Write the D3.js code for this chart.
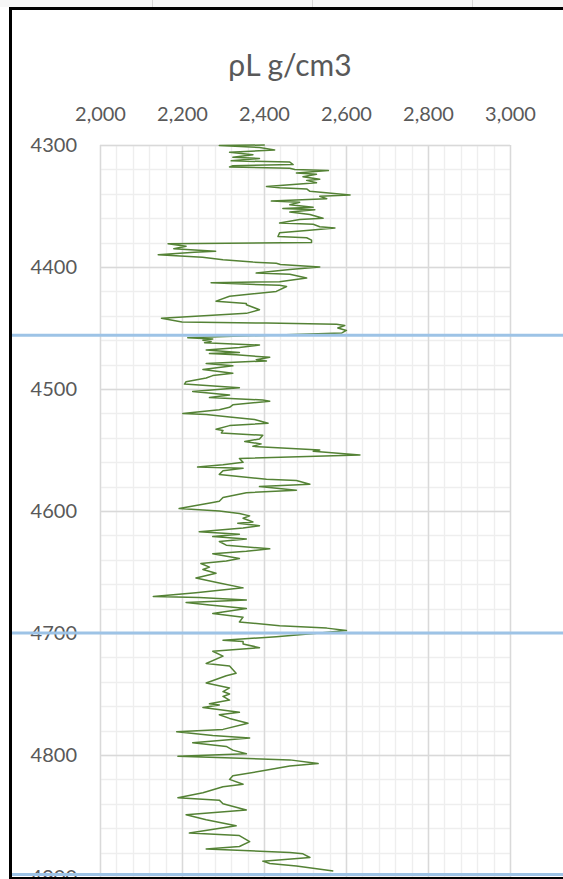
<!DOCTYPE html>
<html>
<head>
<meta charset="utf-8">
<script src="https://cdn.jsdelivr.net/npm/d3@7"></script>
<style>
  body { margin: 0; background: #fff; }
  svg { display: block; }
</style>
</head>
<body>
<svg id="chart" width="563" height="879"></svg>
<script>
// Bulk density log (rhoL) against measured depth
const depthM = [
  4300, 4300.5, 4302, 4304, 4306, 4308, 4310, 4311, 4313, 4314, 4316, 4317, 4318, 4319, 4320, 4321, 4323, 4324, 4326, 4328,
  4329, 4331, 4334, 4335, 4336, 4338, 4341, 4342, 4344, 4346, 4347, 4349, 4351, 4352, 4353, 4355, 4357, 4360, 4361, 4364,
  4365, 4367, 4368, 4370, 4372, 4375, 4376, 4378, 4380,
  4381, 4383, 4385, 4387, 4388, 4390, 4392, 4394, 4396, 4397, 4398, 4400, 4402, 4405, 4406, 4409, 4412, 4413, 4415, 4416,
  4420, 4424, 4428, 4430, 4431, 4435, 4438, 4442, 4445, 4446, 4447, 4448, 4450, 4452, 4454, 4458,
  4459, 4460, 4461, 4462, 4464, 4466, 4468, 4470, 4471, 4472, 4474, 4476, 4477, 4479, 4481, 4484, 4487, 4489, 4491, 4494,
  4496, 4499, 4502, 4505, 4507, 4509, 4510, 4513, 4515, 4517, 4520, 4521, 4523, 4525, 4528, 4530, 4533, 4534, 4536, 4538,
  4541, 4543, 4545, 4547, 4550, 4551, 4554, 4557, 4560, 4562, 4564, 4565, 4567, 4570, 4574, 4575, 4578, 4580, 4583, 4585,
  4589, 4592, 4593, 4598, 4600, 4602, 4604, 4606, 4609, 4610, 4612, 4614, 4617, 4619, 4621, 4623, 4625, 4628, 4631, 4633,
  4635, 4639, 4641, 4643, 4646, 4648, 4651, 4655, 4659, 4663, 4667, 4670, 4671, 4673, 4675, 4677, 4680, 4684, 4687, 4691,
  4694, 4696, 4698, 4700, 4703, 4706, 4707, 4709, 4712, 4715, 4719, 4725, 4727, 4733, 4735, 4741, 4745, 4748, 4750, 4752,
  4755, 4758, 4759, 4761, 4765, 4767, 4770, 4774, 4779, 4781, 4784, 4786, 4790, 4793, 4796, 4799, 4801, 4804, 4807, 4809,
  4813, 4817, 4820, 4824, 4826, 4831, 4835, 4837, 4840, 4845, 4849, 4853, 4858, 4864, 4866, 4871, 4875, 4877, 4880, 4881,
  4884, 4887, 4889, 4891, 4895
];
const rhoL = [
  2402, 2291, 2389, 2426, 2316, 2373, 2324, 2389, 2320, 2463, 2471, 2324, 2316, 2463, 2475, 2557, 2479, 2528, 2495, 2536,
  2504, 2528, 2406, 2438, 2504, 2512, 2610, 2536, 2553, 2418, 2487, 2463, 2520, 2446, 2524, 2463, 2512, 2544, 2487, 2438,
  2520, 2536, 2573, 2504, 2438, 2434, 2504, 2516, 2516,
  2166, 2210, 2180, 2282, 2230, 2142, 2250, 2300, 2373, 2430, 2440, 2536, 2463, 2381, 2463, 2504, 2438, 2271, 2438, 2455,
  2430, 2316, 2283, 2357, 2357, 2389, 2357, 2150, 2200, 2406, 2577, 2597, 2580, 2601, 2590, 2214,
  2275, 2251, 2271, 2255, 2389, 2340, 2259, 2340, 2267, 2332, 2414, 2381, 2406, 2259, 2324, 2251, 2324, 2275, 2259, 2210,
  2206, 2340, 2226, 2316, 2267, 2397, 2414, 2324, 2316, 2291, 2202, 2259, 2316, 2377, 2410, 2316, 2283, 2300, 2296, 2397,
  2389, 2353, 2393, 2373, 2536, 2520, 2634, 2340, 2349, 2300, 2238, 2349, 2300, 2291, 2406, 2479, 2512, 2389, 2479, 2357,
  2300, 2291, 2275, 2193, 2291, 2340, 2365, 2349, 2373, 2336, 2389, 2349, 2242, 2340, 2275, 2357, 2291, 2308, 2414, 2357,
  2275, 2340, 2308, 2246, 2267, 2251, 2283, 2234, 2291, 2349, 2234, 2130, 2242, 2357, 2210, 2267, 2357, 2275, 2349, 2340,
  2438, 2553, 2601, 2536, 2430, 2300, 2349, 2349, 2389, 2275, 2300, 2259, 2316, 2332, 2308, 2259, 2316, 2300, 2316, 2300,
  2316, 2267, 2291, 2251, 2340, 2291, 2316, 2361, 2300, 2187, 2275, 2365, 2226, 2308, 2324, 2357, 2190, 2463, 2532, 2463,
  2397, 2324, 2316, 2349, 2300, 2251, 2190, 2291, 2300, 2357, 2210, 2259, 2332, 2218, 2340, 2365, 2340, 2259, 2463, 2495,
  2512, 2397, 2414, 2479, 2569
];
const xTickValues = [2000, 2200, 2400, 2600, 2800, 3000];
const yTickValues = [4300, 4400, 4500, 4600, 4700, 4800, 4900];
const markerDepths = [4456, 4700, 4898];
const chartTitle = "ρL g/cm3";

const W = 563, H = 879;
const svg = d3.select("#chart");

const x = d3.scaleLinear().domain([2000, 3000]).range([100, 510]);
const y = d3.scaleLinear().domain([4300, 4900]).range([145, 877]);
const crisp = v => Math.round(v) + 0.5;

// worksheet strip above the chart object
const sheet = svg.append("g");
sheet.append("rect").attr("x", 0).attr("y", 0).attr("width", W).attr("height", 7).attr("fill", "#f6f6f6");
[152, 312, 472].forEach(cx => {
  sheet.append("line").attr("x1", cx + 0.5).attr("x2", cx + 0.5).attr("y1", 0).attr("y2", 7)
    .attr("stroke", "#d6d6d6").attr("stroke-width", 1);
});

// gridlines: minor first, then major
const grid = svg.append("g");
const xMinor = d3.range(2000, 3001, 40);
const yMinor = d3.range(4300, 4901, 20);
grid.selectAll(".vmin").data(xMinor).join("line")
  .attr("x1", d => crisp(x(d))).attr("x2", d => crisp(x(d)))
  .attr("y1", y(4300)).attr("y2", y(4900))
  .attr("stroke", "#eeeeee").attr("stroke-width", 1.4);
grid.selectAll(".hmin").data(yMinor).join("line")
  .attr("y1", d => crisp(y(d))).attr("y2", d => crisp(y(d)))
  .attr("x1", x(2000)).attr("x2", x(3000))
  .attr("stroke", "#eeeeee").attr("stroke-width", 1.4);
grid.selectAll(".vmaj").data(xTickValues).join("line")
  .attr("x1", d => crisp(x(d))).attr("x2", d => crisp(x(d)))
  .attr("y1", y(4300)).attr("y2", y(4900))
  .attr("stroke", "#d9d9d9").attr("stroke-width", 1.4);
grid.selectAll(".hmaj").data(yTickValues).join("line")
  .attr("y1", d => crisp(y(d))).attr("y2", d => crisp(y(d)))
  .attr("x1", x(2000)).attr("x2", x(3000))
  .attr("stroke", "#d9d9d9").attr("stroke-width", 1.4);

// axes (labels only)
const labelFont = "Lato, 'Open Sans', sans-serif";
const xAxis = svg.append("g").attr("transform", `translate(0,${y(4300)})`)
  .call(d3.axisTop(x).tickValues(xTickValues).tickFormat(d3.format(",")).tickSize(0).tickPadding(24));
const yAxis = svg.append("g").attr("transform", `translate(${x(2000)},0)`)
  .call(d3.axisLeft(y).tickValues(yTickValues).tickFormat(d3.format("d")).tickSize(0).tickPadding(23));
[xAxis, yAxis].forEach(g => {
  g.select(".domain").remove();
  g.selectAll("text").attr("fill", "#595959").style("font-family", labelFont).style("font-size", "20px");
});

// density curve
const points = depthM.map((d, i) => [rhoL[i], d]);
svg.append("path")
  .datum(points)
  .attr("fill", "none")
  .attr("stroke", "#548235")
  .attr("stroke-width", 1.5)
  .attr("stroke-linejoin", "round")
  .attr("d", d3.line().x(p => x(p[0])).y(p => y(p[1])));

// title
svg.append("text")
  .attr("x", 290).attr("y", 76)
  .attr("text-anchor", "middle")
  .attr("fill", "#595959")
  .style("font-family", labelFont)
  .style("font-size", "30px")
  .text(chartTitle);

// formation boundary markers
svg.selectAll(".marker").data(markerDepths).join("line")
  .attr("x1", 12).attr("x2", W)
  .attr("y1", d => y(d)).attr("y2", d => y(d))
  .attr("stroke", "#9dc3e6").attr("stroke-width", 3);

// chart object frame
const frame = svg.append("g").attr("stroke", "#000").attr("stroke-width", 3);
frame.append("line").attr("x1", 10.5).attr("x2", 10.5).attr("y1", 7).attr("y2", H);
frame.append("line").attr("x1", 9).attr("x2", W).attr("y1", 8.5).attr("y2", 8.5);
frame.append("line").attr("x1", 9).attr("x2", W).attr("y1", 878.5).attr("y2", 878.5);
</script>
</body>
</html>
